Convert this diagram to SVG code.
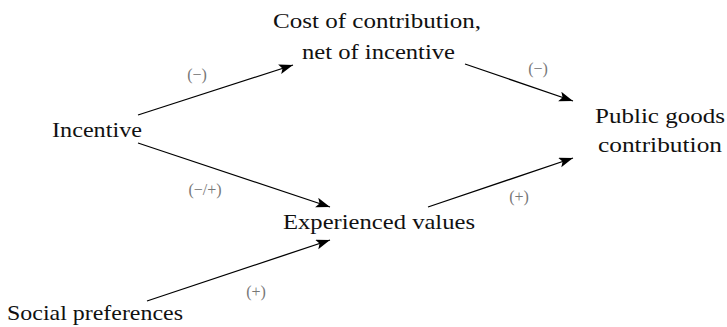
<svg xmlns="http://www.w3.org/2000/svg" width="727" height="327" viewBox="0 0 727 327">
<defs>
<marker id="arr" markerUnits="userSpaceOnUse" markerWidth="16" markerHeight="12" refX="14" refY="5" orient="auto">
<path d="M0,0 L14,5 L0,10 L3,5 Z" fill="#000"/>
</marker>
<style>
.n{font-family:"Liberation Serif","DejaVu Serif",serif;font-size:22px;fill:#111}
.l{font-family:"Liberation Serif","DejaVu Serif",serif;font-size:16px;fill:#777;text-anchor:middle}
.e{stroke:#000;stroke-width:1.3;fill:none;marker-end:url(#arr)}
</style>
</defs>
<rect width="727" height="327" fill="#fff"/>
<g id="cost"><text class="n" x="273" y="28" textLength="208" lengthAdjust="spacingAndGlyphs">Cost of contribution,</text><text class="n" x="302" y="59" textLength="153" lengthAdjust="spacingAndGlyphs">net of incentive</text></g>
<g id="incentive"><text class="n" x="52" y="137" textLength="90" lengthAdjust="spacingAndGlyphs">Incentive</text></g>
<g id="public"><text class="n" x="595" y="123" textLength="130" lengthAdjust="spacingAndGlyphs">Public goods</text><text class="n" x="598" y="152" textLength="124" lengthAdjust="spacingAndGlyphs">contribution</text></g>
<g id="experienced"><text class="n" x="283" y="229" textLength="192" lengthAdjust="spacingAndGlyphs">Experienced values</text></g>
<g id="social"><text class="n" x="7" y="320" textLength="176" lengthAdjust="spacingAndGlyphs">Social preferences</text></g>
<g id="connectors">
<line class="e" x1="138" y1="115" x2="293" y2="65"/>
<line class="e" x1="465" y1="64" x2="573" y2="101"/>
<line class="e" x1="138" y1="143" x2="330" y2="207"/>
<line class="e" x1="147" y1="301" x2="330" y2="240"/>
<line class="e" x1="428" y1="207" x2="573" y2="158"/>
<text class="l" x="197" y="80">(−)</text>
<text class="l" x="538" y="74">(−)</text>
<text class="l" x="205" y="195">(−/+)</text>
<text class="l" x="256" y="297">(+)</text>
<text class="l" x="519" y="202">(+)</text>
</g>
</svg>
